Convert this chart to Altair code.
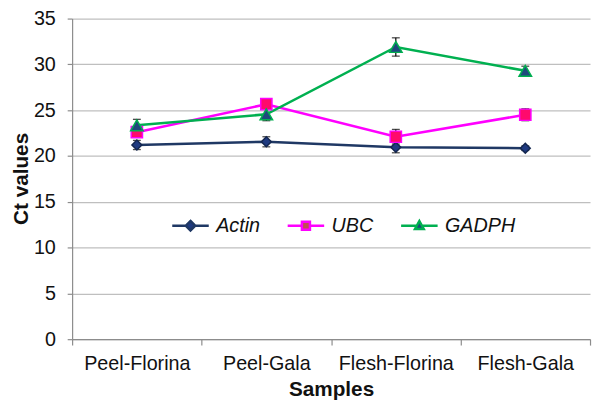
import altair as alt
import pandas as pd

samples = ["Peel-Florina", "Peel-Gala", "Flesh-Florina", "Flesh-Gala"]
genes = ["Actin", "UBC", "GADPH"]

actin_ct = [21.2, 21.55, 20.95, 20.85]
actin_err = [0.5, 0.55, 0.6, 0.25]
ubc_ct = [22.6, 25.65, 22.1, 24.5]
ubc_err = [0.35, 0.3, 0.8, 0.65]
gadph_ct = [23.35, 24.55, 31.9, 29.3]
gadph_err = [0.65, 0.7, 1.0, 0.5]

y_ticks = [0, 5, 10, 15, 20, 25, 30, 35]

line_colors = ["#1F3864", "#FF00FF", "#00B050"]
marker_fill = ["#1F3A80", "#FF0A6C", "#1F497D"]
marker_stroke = ["#13264F", "#FF00FF", "#00B050"]
marker_shapes = ["diamond", "square", "triangle-up"]
marker_sizes = [100, 160, 125]
legend_fill = ["#1F3A80", "#C0504D", "#1F497D"]
legend_paths = [
    "M-1,0L-0.26,0M0.26,0L1,0M0,-0.26L0.26,0L0,0.26L-0.26,0Z",
    "M-1,0L-0.22,0M0.22,0L1,0M-0.22,-0.22L0.22,-0.22L0.22,0.22L-0.22,0.22Z",
    "M-1,0L-0.18,0M0.18,0L1,0M0,-0.26L0.24,0.18L-0.24,0.18Z",
]

rows = []
for g, vals, errs in zip(genes, [actin_ct, ubc_ct, gadph_ct], [actin_err, ubc_err, gadph_err]):
    for s, v, e in zip(samples, vals, errs):
        rows.append({"Sample": s, "Gene": g, "Ct": v, "lo": v - e, "hi": v + e})
df = pd.DataFrame(rows)

FONT = "Liberation Sans"

x_enc = alt.X(
    "Sample:N",
    sort=samples,
    title="Samples",
    scale=alt.Scale(type="band", paddingInner=0, paddingOuter=0),
    axis=alt.Axis(
        labelAngle=0, tickBand="extent", grid=False,
        domainColor="#8C8C8C", tickColor="#8C8C8C", domainWidth=1.2, tickWidth=1.2,
        tickSize=6, labelPadding=9, labelFont=FONT, labelFontSize=20, labelColor="#111111",
        titleFont=FONT, titleFontSize=21, titleFontWeight="bold", titleColor="#111111",
        titleY=51, titleBaseline="middle",
    ),
)


def y_enc(field):
    return alt.Y(
        f"{field}:Q",
        title="Ct values",
        scale=alt.Scale(domain=[0, 35], nice=False, zero=True),
        axis=alt.Axis(
            values=y_ticks, grid=True, gridColor="#BFBFBF", gridWidth=1.3,
            domainColor="#8C8C8C", tickColor="#8C8C8C", domainWidth=1.2, tickWidth=1.2,
            tickSize=5, labelPadding=12, labelFont=FONT, labelFontSize=20, labelColor="#111111",
            titleFont=FONT, titleFontSize=21, titleFontWeight="bold", titleColor="#111111",
            titleX=-51, titleY=162, titleBaseline="middle", titleAlign="center",
        ),
    )


base = alt.Chart(df).encode(x=x_enc)

err_rule = base.mark_rule(color="black", strokeWidth=1.2).encode(
    y=y_enc("lo"), y2="hi:Q"
)
cap_lo = base.mark_tick(color="black", thickness=1.3, size=8).encode(y=y_enc("lo"))
cap_hi = base.mark_tick(color="black", thickness=1.3, size=8).encode(y=y_enc("hi"))

lines = base.mark_line(strokeWidth=2.6).encode(
    y=y_enc("Ct"),
    color=alt.Color("Gene:N", scale=alt.Scale(domain=genes, range=line_colors), legend=None),
    detail="Gene:N",
)

points = base.mark_point(filled=True, opacity=1, strokeWidth=1.5).encode(
    y=y_enc("Ct"),
    shape=alt.Shape("Gene:N", scale=alt.Scale(domain=genes, range=marker_shapes), legend=None),
    fill=alt.Fill("Gene:N", scale=alt.Scale(domain=genes, range=marker_fill), legend=None),
    stroke=alt.Stroke("Gene:N", scale=alt.Scale(domain=genes, range=marker_stroke), legend=None),
    size=alt.Size("Gene:N", scale=alt.Scale(domain=genes, range=marker_sizes), legend=None),
)

leg = alt.Legend(
    title=None, orient="none", legendX=100, legendY=190, direction="horizontal",
    symbolSize=1369, symbolStrokeWidth=2.5, symbolOpacity=1,
    labelFont=FONT, labelFontStyle="italic", labelFontSize=20, labelColor="#111111",
    labelOffset=6, columnPadding=22,
)

legend_layer = base.mark_point(filled=True, opacity=0).encode(
    y=y_enc("Ct"),
    shape=alt.Shape("Gene:N", scale=alt.Scale(domain=genes, range=legend_paths), legend=leg),
    fill=alt.Fill("Gene:N", scale=alt.Scale(domain=genes, range=legend_fill), legend=leg),
    stroke=alt.Stroke("Gene:N", scale=alt.Scale(domain=genes, range=line_colors), legend=leg),
)

chart = (
    alt.layer(err_rule, cap_lo, cap_hi, lines, points, legend_layer)
    .resolve_scale(shape="independent", fill="independent", stroke="independent", size="independent")
    .properties(
        width=525, height=325,
        padding={"left": 65, "top": 8, "right": 2, "bottom": 64},
        autosize=alt.AutoSizeParams(type="none"),
    )
    .configure_view(stroke=None)
)

chart.save("out.html", embed_options={"renderer": "svg", "actions": False})
